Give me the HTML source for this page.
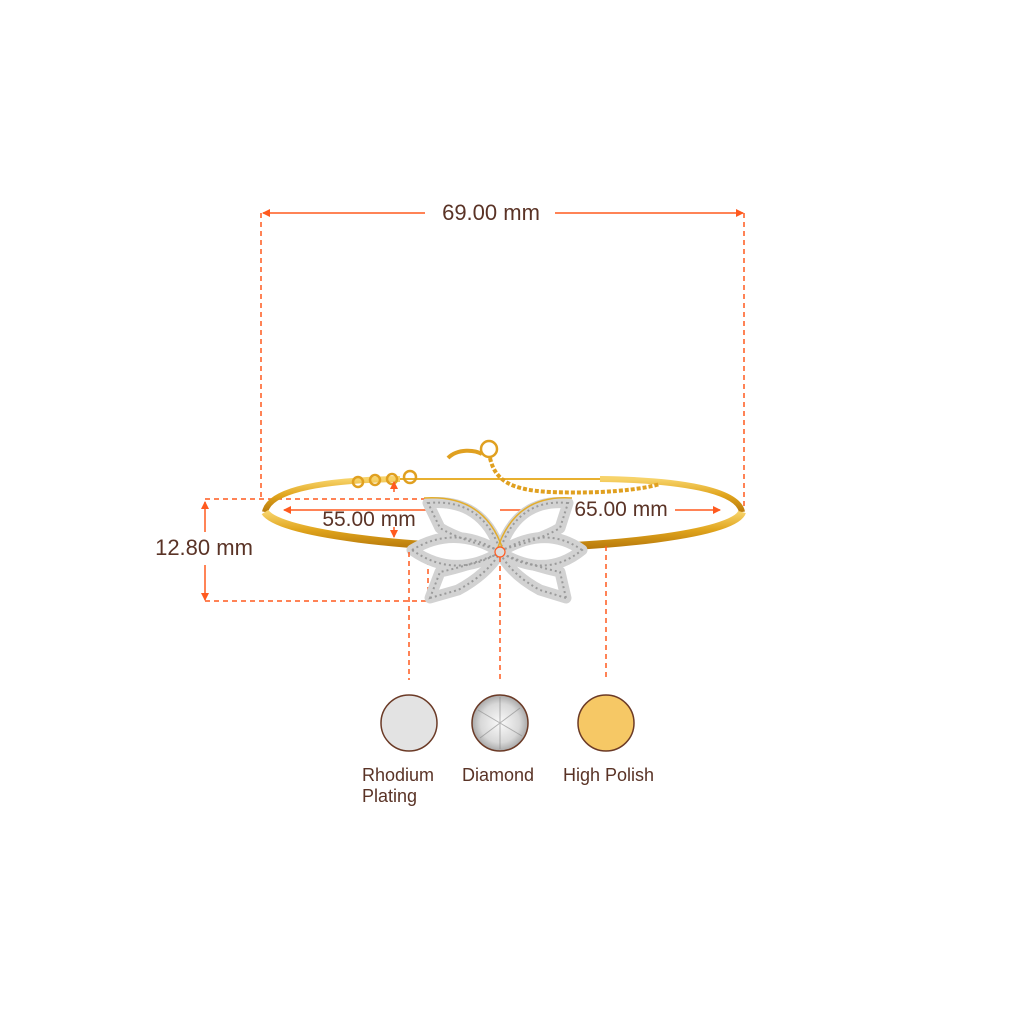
<!DOCTYPE html>
<html><head><meta charset="utf-8"><style>
html,body{margin:0;padding:0;background:#fff;}
svg{display:block;}
text{font-family:"Liberation Sans",sans-serif;fill:#5a3326;}
</style></head><body>
<svg width="1024" height="1024" viewBox="0 0 1024 1024" xmlns="http://www.w3.org/2000/svg">
<defs>
<marker id="a" markerWidth="8" markerHeight="8" refX="7" refY="4" orient="auto" markerUnits="userSpaceOnUse"><path d="M0,0 L8,4 L0,8 Z" fill="#ff5a1f"/></marker>
<linearGradient id="g" x1="0" y1="0" x2="0" y2="1"><stop offset="0" stop-color="#f7d36a"/><stop offset="0.5" stop-color="#e0a41c"/><stop offset="1" stop-color="#b87a0c"/></linearGradient>
<radialGradient id="dm" cx="0.5" cy="0.5" r="0.5"><stop offset="0" stop-color="#fafafa"/><stop offset="0.7" stop-color="#d8d8d8"/><stop offset="1" stop-color="#a8a8a8"/></radialGradient>
</defs>
<g stroke="#ff5a1f" stroke-width="1.5" fill="none">
<line x1="425" y1="213" x2="263" y2="213" marker-end="url(#a)"/>
<line x1="555" y1="213" x2="743" y2="213" marker-end="url(#a)"/>
<line x1="261" y1="213" x2="261" y2="500" stroke-dasharray="5,4"/>
<line x1="744" y1="213" x2="744" y2="510" stroke-dasharray="5,4"/>
<line x1="205" y1="532" x2="205" y2="502" marker-end="url(#a)"/>
<line x1="205" y1="565" x2="205" y2="600" marker-end="url(#a)"/>
<line x1="205" y1="499" x2="430" y2="499" stroke-dasharray="5,4"/>
<line x1="205" y1="601" x2="428" y2="601" stroke-dasharray="5,4"/>
<line x1="428" y1="560" x2="428" y2="601" stroke-dasharray="5,4"/>
</g>
<path d="M265,512 C270,488 330,480 400,479 M600,479 C680,480 738,490 742,512" fill="none" stroke="url(#g)" stroke-width="6"/>
<path d="M400,479 L600,479" stroke="#e8b030" stroke-width="2"/>
<path d="M265,512 C280,535 420,548 503,548 C600,548 735,535 742,512" fill="none" stroke="url(#g)" stroke-width="8"/>
<g fill="none" stroke="#e0a020" stroke-width="2.5">
<circle cx="410" cy="477" r="6"/><circle cx="392" cy="479" r="5"/><circle cx="375" cy="480" r="5"/><circle cx="358" cy="482" r="5"/>
<path d="M490,458 C495,480 510,490 550,492 C600,494 640,490 660,484" stroke-dasharray="4,2" stroke-width="4"/>
<circle cx="489" cy="449" r="8"/>
<path d="M448,458 C458,448 475,450 482,454" stroke-width="4"/>
</g>
<g stroke="#ff5a1f" stroke-width="1.5" fill="none">
<line x1="394" y1="492" x2="394" y2="482" marker-end="url(#a)"/>
<line x1="394" y1="527" x2="394" y2="537" marker-end="url(#a)"/>
<line x1="430" y1="510" x2="284" y2="510" marker-end="url(#a)"/>
<line x1="500" y1="510" x2="560" y2="510"/>
<line x1="675" y1="510" x2="720" y2="510" marker-end="url(#a)"/>
</g>
<g stroke="#d2d2d2" stroke-width="11" fill="#fff" stroke-linejoin="round">
<path d="M428,503 Q482,498 500,550 Q460,540 440,528 Z"/>
<path d="M568,503 Q518,498 500,550 Q540,540 560,528 Z"/>
<path d="M430,598 L458,590 Q486,575 500,553 Q468,566 440,572 Z"/>
<path d="M566,598 L540,590 Q512,575 500,553 Q532,566 560,572 Z"/>
<path d="M412,550 Q455,524 500,552 Q455,580 412,550 Z"/>
<path d="M582,550 Q545,524 500,552 Q545,580 582,550 Z"/>
</g>
<g stroke="#9a9a9a" stroke-width="2" fill="none" stroke-dasharray="2,3">
<path d="M428,503 Q482,498 500,550 Q460,540 440,528 Z"/>
<path d="M568,503 Q518,498 500,550 Q540,540 560,528 Z"/>
<path d="M430,598 L458,590 Q486,575 500,553 Q468,566 440,572 Z"/>
<path d="M566,598 L540,590 Q512,575 500,553 Q532,566 560,572 Z"/>
<path d="M412,550 Q455,524 500,552 Q455,580 412,550 Z"/>
<path d="M582,550 Q545,524 500,552 Q545,580 582,550 Z"/>
</g>
<g stroke="#e3ad2b" stroke-width="1.5" fill="none">
<path d="M424,498 Q485,494 503,550"/><path d="M572,498 Q515,494 497,550"/>
</g>
<circle cx="500" cy="552" r="5" fill="#ddd" stroke="#ff5a1f" stroke-width="1.2"/>
<g stroke="#ff5a1f" stroke-width="1.5" stroke-dasharray="5,4">
<line x1="409" y1="552" x2="409" y2="680"/>
<line x1="500" y1="557" x2="500" y2="680"/>
<line x1="606" y1="546" x2="606" y2="680"/>
</g>
<text x="491" y="220" font-size="22" text-anchor="middle">69.00 mm</text>
<text x="204" y="555" font-size="22" text-anchor="middle">12.80 mm</text>
<text x="369" y="526" font-size="21" text-anchor="middle">55.00 mm</text>
<text x="621" y="516" font-size="21" text-anchor="middle">65.00 mm</text>
<circle cx="409" cy="723" r="28" fill="#e3e3e3" stroke="#6b3a26" stroke-width="1.5"/>
<circle cx="500" cy="723" r="28" fill="url(#dm)" stroke="#6b3a26" stroke-width="1.5"/>
<g stroke="#888" stroke-width="1" opacity="0.6"><line x1="478" y1="710" x2="522" y2="736"/><line x1="480" y1="738" x2="520" y2="708"/><line x1="500" y1="697" x2="500" y2="749"/></g>
<circle cx="606" cy="723" r="28" fill="#f6c865" stroke="#6b3a26" stroke-width="1.5"/>
<text x="362" y="781" font-size="18">Rhodium</text>
<text x="362" y="802" font-size="18">Plating</text>
<text x="462" y="781" font-size="18">Diamond</text>
<text x="563" y="781" font-size="18">High Polish</text>
</svg>
</body></html>
